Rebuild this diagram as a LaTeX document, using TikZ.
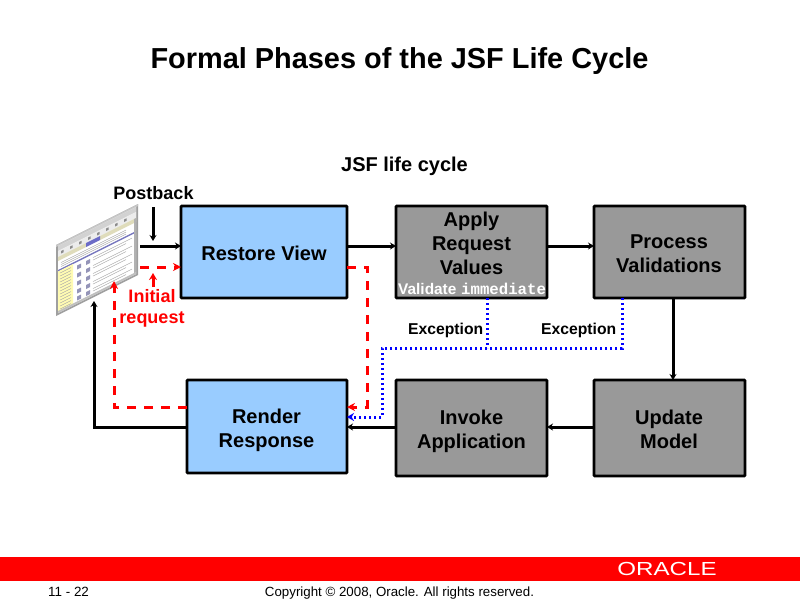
\documentclass[tikz,border=0pt]{standalone}
\usepackage{fontspec}
\setmainfont{Liberation Sans}
\setmonofont{Liberation Mono}
\usetikzlibrary{arrows.meta}
\definecolor{boxblue}{HTML}{99CCFF}
\definecolor{boxgray}{HTML}{999999}
\definecolor{orared}{HTML}{FF0000}
\definecolor{dotblue}{HTML}{0000FF}
\newcommand{\fs}[2]{\fontsize{#1}{#2}\selectfont}
\tikzset{
  x=1pt,y=-1pt,
  phase/.style={draw=black,line width=2.8pt,outer sep=0pt,rounded corners=0.8pt,inner sep=0pt,anchor=north west,align=center},
  phasetext/.style={font=\bfseries\fs{20}{24},align=center,inner sep=0pt,anchor=center},
  blue box/.style={phase,fill=boxblue},
  gray box/.style={phase,fill=boxgray},
  flow/.style={line width=3pt,draw=black,-{Stealth[length=6pt,width=7pt]}},
  redflow/.style={line width=3pt,draw=orared,dash pattern=on 9pt off 8pt,-{Stealth[length=8pt,width=8pt]}},
  redarrow/.style={line width=3pt,draw=orared,-{Stealth[length=7pt,width=8pt]}},
  blueflow/.style={line width=3pt,draw=dotblue,dash pattern=on 2.4pt off 2.6pt},
  label/.style={font=\bfseries\fs{18}{21},align=center,inner sep=0pt},
  exc/.style={font=\bfseries\fs{15.7}{18},inner sep=0pt},
}
\begin{document}
\begin{tikzpicture}
\useasboundingbox (0,0) rectangle (800,600);
% footer band
\fill[orared] (0,557) rectangle (800,581);
\node[font=\fs{13.4}{15},inner sep=0pt,anchor=base west] (page) at (48,596) {11 - 22};
\node[font=\fs{13.3}{15},inner sep=0pt,anchor=base] (copy) at (399.5,596) {Copyright © 2008, Oracle. All rights reserved.};
\node[text=white,inner sep=0pt,anchor=center] (oracle) at (667,569) {\scalebox{1.34}[1.05]{\fs{18}{18}ORACLE}};
% titles
\node[font=\bfseries\fs{28.9}{32},inner sep=0pt,anchor=base] (title) at (399.5,68) {Formal Phases of the JSF Life Cycle};
\node[font=\bfseries\fs{20}{24},inner sep=0pt,anchor=base] (sub) at (404.5,171) {JSF life cycle};
% browser
\begin{scope}[shift={(56,245)},yslant=0.5]
  \fill[gray!75] (0,0) rectangle (82,71);
  \fill[gray!45] (0,0) rectangle (82,2);
  \fill[white] (2,2) rectangle (80,69);
  \fill[gray!35] (2,2) rectangle (80,7);
  \fill[gray!15] (2,7) rectangle (80,13);
  \fill[black!45] (5,8.5) rectangle (7.5,11) (14,8.5) rectangle (16.5,11) (23,8.5) rectangle (25.5,11) (32,8.5) rectangle (34.5,11) (41,8.5) rectangle (43.5,11) (50,8.5) rectangle (52.5,11) (59,8.5) rectangle (61.5,11) (68,8.5) rectangle (70.5,11);
  \fill[yellow!35!gray!45] (2,13) rectangle (30,17) (44,13) rectangle (80,17);
  \fill[blue!45!gray!80] (30,13) rectangle (44,17);
  \fill[blue!35!gray!80] (2,26) rectangle (80,27.5);
  \fill[yellow!30!white] (2,27.5) rectangle (17,68);
  \foreach \yy in {30,33,...,66}{\draw[gray!70,line width=0.45pt] (4,\yy) -- (15,\yy);}
  \foreach \yy in {20,22,24}{\draw[gray!70,line width=0.45pt] (5,\yy) -- (70,\yy);}
  \foreach \yy in {31,39,47,55,62}{
    \fill[blue!20!gray!70] (21,\yy) rectangle (25,\yy+4);
    \fill[blue!20!gray!70] (30,\yy) rectangle (34,\yy+4);
    \draw[gray!70,line width=0.45pt] (37,\yy) -- (76,\yy) (37,\yy+2.5) -- (70,\yy+2.5);
  }
  \fill[gray!50] (2,67) rectangle (80,69);
  \fill[gray!60] (78,13) rectangle (80,67);
\end{scope}
\coordinate (browserR) at (140,246);
\coordinate (browserRed) at (140,267);
\coordinate (browserB1) at (94,301);
\coordinate (browserB2) at (114,281);
\coordinate (pb) at (153,207);
\coordinate (pbE) at (153,241);
\coordinate (ini) at (153,287);
\coordinate (iniE) at (153,273);
% boxes
\node[blue box,minimum width=166pt,minimum height=92pt] (restore) at (181,206) {};
\node[gray box,minimum width=151pt,minimum height=92pt] (apply) at (396,206) {};
\node[gray box,minimum width=151pt,minimum height=92pt] (process) at (594,206) {};
\node[blue box,minimum width=160pt,minimum height=93pt] (render) at (187,380) {};
\node[gray box,minimum width=151pt,minimum height=96pt] (invoke) at (396,380) {};
\node[gray box,minimum width=151pt,minimum height=96pt] (update) at (594,380) {};
\node[phasetext] (restoretxt) at (264,253) {Restore View};
\node[phasetext] (applytxt) at (471.5,243.5) {Apply\\Request\\Values};
\node[phasetext] (processtxt) at (669,254) {Process\\Validations};
\node[phasetext] (rendertxt) at (266.5,430.5) {Render\\Response};
\node[phasetext] (invoketxt) at (471.5,431.5) {Invoke\\Application};
\node[phasetext] (updatetxt) at (669,429.5) {Update\\Model};
\node[text=white,font=\bfseries\fs{15.4}{18},inner sep=0pt,anchor=base west] (val) at (398,294) {Validate};
\node[text=white,font=\ttfamily\bfseries\fs{15.7}{18},inner sep=0pt,anchor=base west] (imm) at (461,294) {immediate};
% labels
\node[label,anchor=base] (postback) at (153.5,199) {Postback};
\node[label,text=orared,anchor=north] (initial) at (152,289) {Initial\\request};
\node[exc,anchor=base west] (ex1) at (408,334) {Exception};
\node[exc,anchor=base west] (ex2) at (541,334) {Exception};
% rows
\coordinate (rowT) at (0,246);
\coordinate (rowB) at (0,427);
\coordinate (rowR) at (0,267);
\coordinate (rowRR) at (0,407);
\coordinate (rowBl) at (0,417);
\coordinate (busY) at (0,348);
\coordinate (redX) at (367,0);
\coordinate (blX) at (382,0);
\coordinate (colA) at (487,0);
\coordinate (colP) at (622,0);
\coordinate (colU) at (673,0);
% solid connectors
\draw[flow] (browserR) -- (restore.west |- rowT);
\draw[flow] (pb) -- (pbE);
\draw[flow] (restore.east |- rowT) -- (apply.west |- rowT);
\draw[flow] (apply.east |- rowT) -- (process.west |- rowT);
\draw[flow] (process.south -| colU) -- (update.north -| colU);
\draw[flow] (update.west |- rowB) -- (invoke.east |- rowB);
\draw[flow] (invoke.west |- rowB) -- (render.east |- rowB);
\draw[flow] (render.west |- rowB) -- (browserB1 |- rowB) -- (browserB1);
% red
\draw[redflow] (browserRed) -- (restore.west |- rowR);
\draw[redarrow] (ini) -- (iniE);
\draw[redflow] (render.west |- rowRR) -- (browserB2 |- rowRR) -- (browserB2);
\draw[redflow] (restore.east |- rowR) -- (redX |- rowR) -- (redX |- rowRR) -- (render.east |- rowRR);
% blue
\draw[blueflow] (apply.south -| colA) -- (colA |- busY);
\draw[blueflow,-{Stealth[length=7pt,width=8pt]}] (process.south -| colP) -- (colP |- busY) -- (blX |- busY) -- (blX |- rowBl) -- (render.east |- rowBl);
\end{tikzpicture}
\end{document}
